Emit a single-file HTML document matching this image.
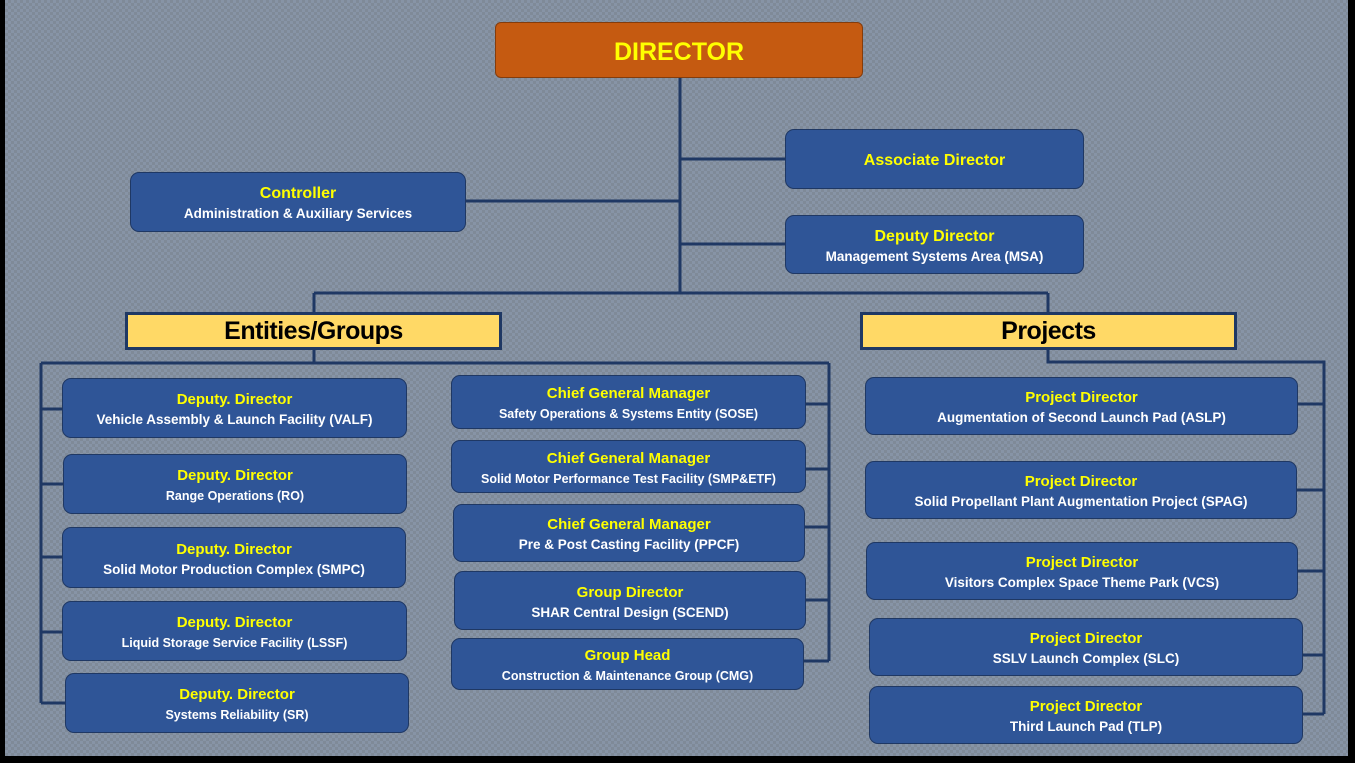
<!DOCTYPE html>
<html><head><meta charset="utf-8">
<style>
html,body{margin:0;padding:0}
body{width:1355px;height:763px;position:relative;overflow:hidden;background:#000;font-family:"Liberation Sans",sans-serif}
#bg{position:absolute;left:5px;top:0;width:1343px;height:756px;background-color:#8794a6;
background-image:linear-gradient(45deg,#7f8a98 25%,transparent 25%,transparent 75%,#7f8a98 75%),linear-gradient(45deg,#7f8a98 25%,transparent 25%,transparent 75%,#7f8a98 75%);
background-size:6px 6px;background-position:0 0,3px 3px}
.b{position:absolute;box-sizing:border-box;background:#2f5597;border:1.5px solid #1f3864;border-radius:9px;color:#fff;font-weight:bold;text-align:center;display:flex;flex-direction:column;justify-content:center;font-size:13.5px;line-height:20px;padding-top:4px}
.b .t{color:#ffff00;font-size:15px}
.h{position:absolute;box-sizing:border-box;background:#ffd966;border:3px solid #1f3864;font-weight:bold;font-size:25px;text-align:center;line-height:32px;color:#000;letter-spacing:-0.5px}
svg{position:absolute;left:0;top:0}
</style></head><body>
<div id="bg"></div>
<svg width="1355" height="763"><g stroke="#1f3864" stroke-width="3" fill="none">
<path d="M680 78V293M680 159H785M466 201H680M680 244H785M314 293H1048M314 293V312M1048 293V312"/>
<path d="M314 349V363M41 363H829M41 363V703M41 409H62M41 484H63M41 557H62M41 632H62M41 703H65"/>
<path d="M829 363V661M806 404H829M806 469H829M805 527H829M806 600H829M804 661H829"/>
<path d="M1048 349V362H1324V714M1298 404H1324M1297 490H1324M1298 571H1324M1303 655H1324M1303 714H1324"/>
</g></svg>
<div class="b" style="left:495px;top:22px;width:368px;height:56px;background:#c55a11;border-color:#843c0c;border-radius:6px;color:#ffff00;font-size:25px">DIRECTOR</div>
<div class="b" style="left:785px;top:129px;width:299px;height:60px"><span class="t" style="font-size:16px">Associate Director</span></div>
<div class="b" style="left:130px;top:172px;width:336px;height:60px"><span class="t" style="font-size:16px">Controller</span>Administration &amp; Auxiliary Services</div>
<div class="b" style="left:785px;top:215px;width:299px;height:59px"><span class="t" style="font-size:16px">Deputy Director</span>Management Systems Area (MSA)</div>
<div class="h" style="left:125px;top:312px;width:377px;height:38px">Entities/Groups</div>
<div class="h" style="left:860px;top:312px;width:377px;height:38px">Projects</div>

<div class="b" style="left:62px;top:378px;width:345px;height:60px"><span class="t">Deputy. Director</span>Vehicle Assembly &amp; Launch Facility (VALF)</div>
<div class="b" style="left:63px;top:454px;width:344px;height:60px;font-size:12.5px"><span class="t">Deputy. Director</span>Range Operations (RO)</div>
<div class="b" style="left:62px;top:527px;width:344px;height:61px"><span class="t">Deputy. Director</span>Solid Motor Production Complex (SMPC)</div>
<div class="b" style="left:62px;top:601px;width:345px;height:60px;font-size:12.5px"><span class="t">Deputy. Director</span>Liquid Storage Service Facility (LSSF)</div>
<div class="b" style="left:65px;top:673px;width:344px;height:60px;font-size:12.5px"><span class="t">Deputy. Director</span>Systems Reliability (SR)</div>

<div class="b" style="left:451px;top:375px;width:355px;height:54px;font-size:12.5px"><span class="t">Chief General Manager</span>Safety Operations &amp; Systems Entity (SOSE)</div>
<div class="b" style="left:451px;top:440px;width:355px;height:53px;font-size:12.5px"><span class="t">Chief General Manager</span>Solid Motor Performance Test Facility (SMP&amp;ETF)</div>
<div class="b" style="left:453px;top:504px;width:352px;height:58px"><span class="t">Chief General Manager</span>Pre &amp; Post Casting Facility (PPCF)</div>
<div class="b" style="left:454px;top:571px;width:352px;height:59px"><span class="t">Group Director</span>SHAR Central Design (SCEND)</div>
<div class="b" style="left:451px;top:638px;width:353px;height:52px;font-size:12.5px"><span class="t">Group Head</span>Construction &amp; Maintenance Group (CMG)</div>

<div class="b" style="left:865px;top:377px;width:433px;height:58px"><span class="t">Project Director</span>Augmentation of Second Launch Pad (ASLP)</div>
<div class="b" style="left:865px;top:461px;width:432px;height:58px"><span class="t">Project Director</span>Solid Propellant Plant Augmentation Project (SPAG)</div>
<div class="b" style="left:866px;top:542px;width:432px;height:58px"><span class="t">Project Director</span>Visitors Complex Space Theme Park (VCS)</div>
<div class="b" style="left:869px;top:618px;width:434px;height:58px"><span class="t">Project Director</span>SSLV Launch Complex (SLC)</div>
<div class="b" style="left:869px;top:686px;width:434px;height:58px"><span class="t">Project Director</span>Third Launch Pad (TLP)</div>
</body></html>
